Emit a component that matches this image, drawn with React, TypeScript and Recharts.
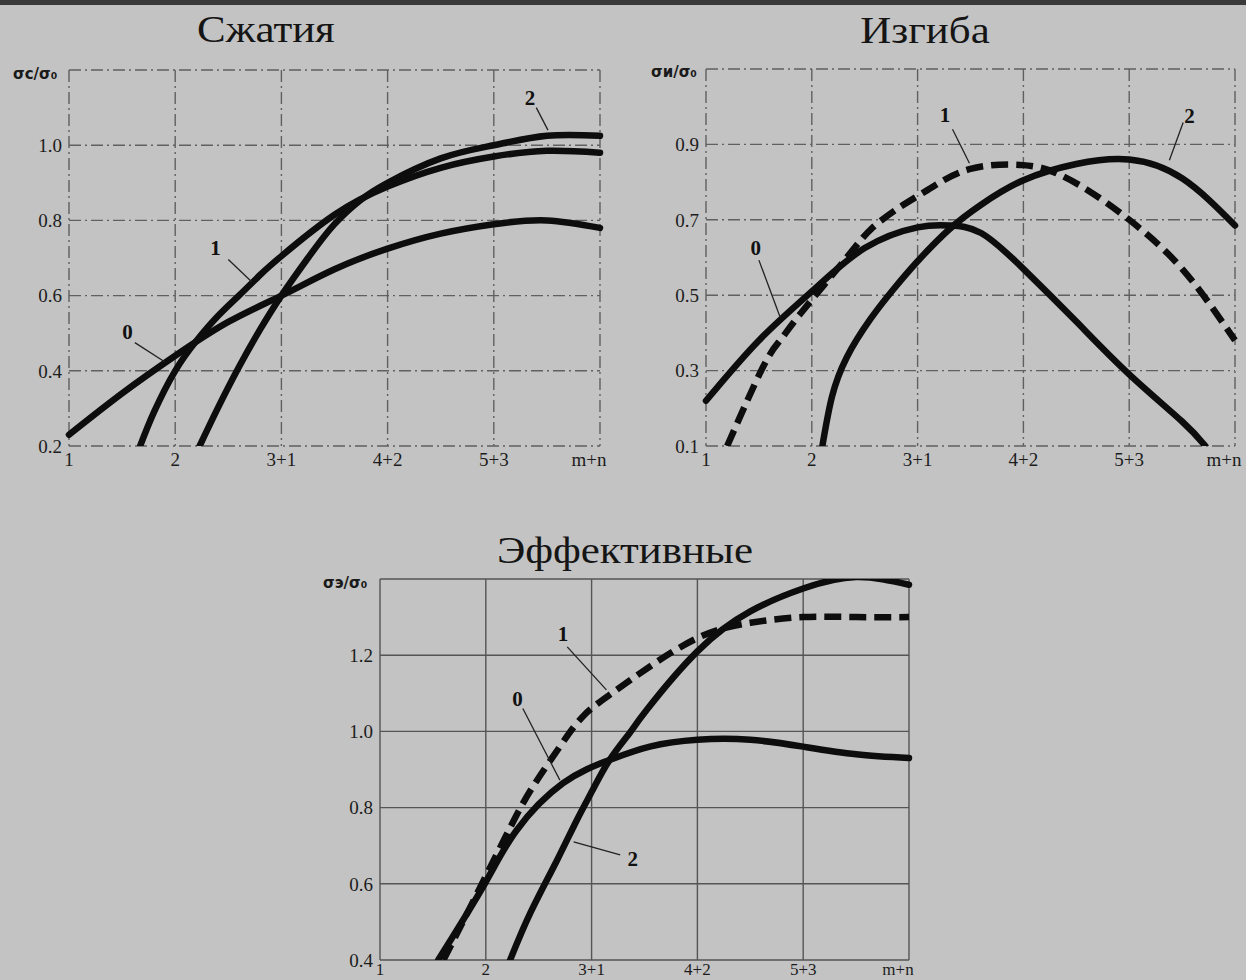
import React from 'react';
import { LineChart, Line, XAxis, YAxis, CartesianGrid, ReferenceLine, ReferenceDot } from 'recharts';

// x positions: 1 .. 6 -> labels
const xTicks = [1, 2, 3, 4, 5, 6];
const xLabels = ['1', '2', '3+1', '4+2', '5+3', 'm+n'];

// Сжатия
const compTicks = [0.2, 0.4, 0.6, 0.8, 1.0, 1.2];
const comp0 = [
  { x: 1, y: 0.23 }, { x: 1.5, y: 0.34 }, { x: 2, y: 0.44 }, { x: 2.5, y: 0.53 }, { x: 3, y: 0.6 },
  { x: 3.5, y: 0.67 }, { x: 4, y: 0.725 }, { x: 4.5, y: 0.765 }, { x: 5, y: 0.79 }, { x: 5.5, y: 0.8 }, { x: 6, y: 0.78 },
];
const comp1 = [
  { x: 1.67, y: 0.2 }, { x: 1.8, y: 0.29 }, { x: 2, y: 0.4 }, { x: 2.2, y: 0.48 }, { x: 2.4, y: 0.545 },
  { x: 2.6, y: 0.6 }, { x: 2.8, y: 0.655 }, { x: 3, y: 0.705 }, { x: 3.5, y: 0.815 }, { x: 4, y: 0.89 },
  { x: 4.5, y: 0.94 }, { x: 5, y: 0.97 }, { x: 5.5, y: 0.985 }, { x: 6, y: 0.98 },
];
const comp2 = [
  { x: 2.23, y: 0.2 }, { x: 2.4, y: 0.3 }, { x: 2.6, y: 0.41 }, { x: 2.8, y: 0.51 }, { x: 3, y: 0.6 },
  { x: 3.25, y: 0.7 }, { x: 3.5, y: 0.79 }, { x: 3.75, y: 0.855 }, { x: 4, y: 0.9 }, { x: 4.5, y: 0.965 },
  { x: 5, y: 1.0 }, { x: 5.5, y: 1.025 }, { x: 6, y: 1.025 },
];

// Изгиба
const bendTicks = [0.1, 0.3, 0.5, 0.7, 0.9, 1.1];
const bend0 = [
  { x: 1, y: 0.22 }, { x: 1.5, y: 0.38 }, { x: 2, y: 0.51 }, { x: 2.5, y: 0.625 }, { x: 3, y: 0.68 },
  { x: 3.3, y: 0.685 }, { x: 3.6, y: 0.665 }, { x: 4, y: 0.57 }, { x: 4.5, y: 0.43 }, { x: 5, y: 0.29 },
  { x: 5.5, y: 0.165 }, { x: 5.72, y: 0.1 },
];
const bend1 = [
  { x: 1.2, y: 0.1 }, { x: 1.54, y: 0.31 }, { x: 1.7, y: 0.38 }, { x: 1.89, y: 0.45 }, { x: 2.33, y: 0.6 },
  { x: 2.57, y: 0.678 }, { x: 2.84, y: 0.735 }, { x: 3.1, y: 0.78 }, { x: 3.5, y: 0.835 }, { x: 4, y: 0.845 },
  { x: 4.3, y: 0.825 }, { x: 4.6, y: 0.78 }, { x: 5, y: 0.7 }, { x: 5.5, y: 0.57 }, { x: 6, y: 0.38 },
];
const bend2 = [
  { x: 2.1, y: 0.1 }, { x: 2.19, y: 0.23 }, { x: 2.33, y: 0.335 }, { x: 2.55, y: 0.435 }, { x: 2.77, y: 0.515 },
  { x: 3, y: 0.59 }, { x: 3.3, y: 0.675 }, { x: 3.6, y: 0.74 }, { x: 4, y: 0.805 }, { x: 4.5, y: 0.848 },
  { x: 5, y: 0.86 }, { x: 5.5, y: 0.81 }, { x: 6, y: 0.685 },
];

// Эффективные
const effTicks = [0.4, 0.6, 0.8, 1.0, 1.2, 1.4];
const eff0 = [
  { x: 1.55, y: 0.4 }, { x: 1.99, y: 0.6 }, { x: 2.29, y: 0.74 }, { x: 2.73, y: 0.864 }, { x: 3.17, y: 0.925 },
  { x: 3.55, y: 0.96 }, { x: 4, y: 0.978 }, { x: 4.5, y: 0.978 }, { x: 5, y: 0.96 }, { x: 5.5, y: 0.94 }, { x: 6, y: 0.93 },
];
const eff1 = [
  { x: 1.6, y: 0.4 }, { x: 2, y: 0.62 }, { x: 2.29, y: 0.78 }, { x: 2.48, y: 0.87 }, { x: 2.7, y: 0.96 },
  { x: 2.92, y: 1.04 }, { x: 3.17, y: 1.096 }, { x: 3.46, y: 1.153 }, { x: 4, y: 1.245 }, { x: 4.5, y: 1.285 },
  { x: 5, y: 1.3 }, { x: 5.5, y: 1.3 }, { x: 6, y: 1.3 },
];
const eff2 = [
  { x: 2.23, y: 0.4 }, { x: 2.42, y: 0.523 }, { x: 2.67, y: 0.66 }, { x: 2.86, y: 0.767 }, { x: 3.01, y: 0.846 },
  { x: 3.17, y: 0.925 }, { x: 3.36, y: 0.996 }, { x: 3.52, y: 1.056 }, { x: 4, y: 1.21 }, { x: 4.5, y: 1.315 },
  { x: 5, y: 1.375 }, { x: 5.5, y: 1.405 }, { x: 6, y: 1.385 },
];

// curve number callouts: text position + leader segment
const compNotes = [
  { t: '2', x: 5.34, y: 1.128, a: [5.4, 1.1], b: [5.51, 1.04] },
  { t: '1', x: 2.38, y: 0.728, a: [2.5, 0.696], b: [2.72, 0.637] },
  { t: '0', x: 1.55, y: 0.504, a: [1.62, 0.475], b: [1.9, 0.424] },
];
const bendNotes = [
  { t: '1', x: 3.26, y: 0.98, a: [3.33, 0.94], b: [3.49, 0.85] },
  { t: '2', x: 5.57, y: 0.977, a: [5.51, 0.958], b: [5.38, 0.858] },
  { t: '0', x: 1.47, y: 0.627, a: [1.5, 0.593], b: [1.7, 0.442] },
];
const effNotes = [
  { t: '1', x: 2.73, y: 1.257, a: [2.77, 1.222], b: [3.14, 1.109] },
  { t: '0', x: 2.3, y: 1.087, a: [2.35, 1.06], b: [2.7, 0.872] },
  { t: '2', x: 3.39, y: 0.667, a: [3.27, 0.676], b: [2.83, 0.71] },
];

const serif = '"Liberation Serif", "DejaVu Serif", serif';
const tickStyle = { fontSize: 19, fill: '#1c1c1c', fontFamily: serif };

type Pt = { x: number; y: number };
type Note = { t: string; x: number; y: number; a: number[]; b: number[] };

const XTick = (props: any) => {
  const { x, y, payload, fs } = props;
  const last = payload.value === 6;
  return (
    <text x={x + (last ? -11 : 0)} y={y} dy="0.71em" textAnchor="middle" {...tickStyle} fontSize={fs}>
      {xLabels[xTicks.indexOf(payload.value)] ?? ''}
    </text>
  );
};

interface PanelProps {
  left: number;
  top: number;
  width: number;
  height: number;
  xHeight: number;
  xFont: number;
  xGap: number;
  margin: { top: number; right: number; bottom: number; left: number };
  yTicks: number[];
  series: Pt[][];
  dashed: boolean[];
  notes: Note[];
  gridDash: string;
  gridColor: string;
}

const Panel: React.FC<PanelProps> = ({ left, top, width, height, xHeight, xFont, xGap, margin, yTicks, series, dashed, notes, gridDash, gridColor }) => {
  const yMax = yTicks[yTicks.length - 1];
  return (
    <div style={{ position: 'absolute', left, top }}>
      <LineChart width={width} height={height} margin={margin}>
        <CartesianGrid stroke={gridColor} strokeWidth={1.4} strokeDasharray={gridDash} />
        <XAxis
          type="number"
          dataKey="x"
          domain={[1, 6]}
          ticks={xTicks}
          axisLine={false}
          tickLine={false}
          tickSize={xGap}
          tick={<XTick fs={xFont} />}
          height={xHeight}
          interval={0}
        />
        <YAxis
          type="number"
          dataKey="y"
          domain={[yTicks[0], yMax]}
          ticks={yTicks}
          tickFormatter={(v: number) => (v === yMax ? '' : v.toFixed(1))}
          axisLine={false}
          tickLine={false}
          tickSize={5}
          tick={tickStyle}
          width={50}
          interval={0}
          allowDataOverflow
        />
        {series.map((d, i) => (
          <Line
            key={i}
            data={d}
            dataKey="y"
            type="natural"
            stroke="#0d0d0d"
            strokeWidth={6.5}
            strokeDasharray={dashed[i] ? '17 8' : undefined}
            strokeLinecap={dashed[i] ? 'butt' : 'round'}
            dot={false}
            activeDot={false}
            isAnimationActive={false}
          />
        ))}
        {notes.map((n, i) => (
          <ReferenceLine
            key={'l' + i}
            segment={[{ x: n.a[0], y: n.a[1] }, { x: n.b[0], y: n.b[1] }]}
            stroke="#222"
            strokeWidth={1.3}
          />
        ))}
        {notes.map((n, i) => (
          <ReferenceDot
            key={'d' + i}
            x={n.x}
            y={n.y}
            r={0}
            fill="none"
            stroke="none"
            label={{ value: n.t, position: 'center', fill: '#111', fontSize: 21, fontWeight: 'bold', fontFamily: serif }}
          />
        ))}
      </LineChart>
    </div>
  );
};

const titleStyle: React.CSSProperties = {
  position: 'absolute',
  fontFamily: serif,
  fontSize: 38,
  color: '#151515',
  lineHeight: '38px',
  transform: 'translateX(-50%) scaleX(1.13)',
  whiteSpace: 'nowrap',
};

const yLabStyle: React.CSSProperties = {
  position: 'absolute',
  fontFamily: '"DejaVu Sans", sans-serif',
  fontSize: 15,
  fontWeight: 'bold',
  color: '#1a1a1a',
  lineHeight: '15px',
};

export default function App() {
  return (
    <div style={{ position: 'absolute', left: 0, top: 0, width: 1246, height: 980, background: '#c3c3c3', overflow: 'hidden' }}>
      <div style={{ position: 'absolute', left: 0, top: 0, width: 1246, height: 5, background: '#3a3a3a' }} />

      <div style={{ ...titleStyle, left: 266, top: 10 }}>Сжатия</div>
      <div style={{ ...titleStyle, left: 925, top: 11 }}>Изгиба</div>
      <div style={{ ...titleStyle, left: 625, top: 531 }}>Эффективные</div>

      <div style={{ ...yLabStyle, left: 13, top: 67 }}>σс/σ₀</div>
      <div style={{ ...yLabStyle, left: 651, top: 65 }}>σи/σ₀</div>
      <div style={{ ...yLabStyle, left: 323, top: 576 }}>σэ/σ₀</div>

      <Panel
        left={0}
        top={0}
        width={620}
        height={476}
        xHeight={26}
        xFont={19}
        xGap={5}
        margin={{ top: 70, right: 20, bottom: 4, left: 19 }}
        yTicks={compTicks}
        series={[comp0, comp1, comp2]}
        dashed={[false, false, false]}
        notes={compNotes}
        gridDash="12 4 2 4"
        gridColor="#606060"
      />
      <Panel
        left={640}
        top={0}
        width={606}
        height={476}
        xHeight={26}
        xFont={19}
        xGap={5}
        margin={{ top: 69, right: 11, bottom: 4, left: 16 }}
        yTicks={bendTicks}
        series={[bend0, bend1, bend2]}
        dashed={[false, true, false]}
        notes={bendNotes}
        gridDash="12 4 2 4"
        gridColor="#606060"
      />
      <Panel
        left={310}
        top={530}
        width={620}
        height={450}
        xHeight={20}
        xFont={17}
        xGap={1}
        margin={{ top: 49, right: 21, bottom: 0, left: 20 }}
        yTicks={effTicks}
        series={[eff0, eff1, eff2]}
        dashed={[false, true, false]}
        notes={effNotes}
        gridDash=""
        gridColor="#555555"
      />
    </div>
  );
}
